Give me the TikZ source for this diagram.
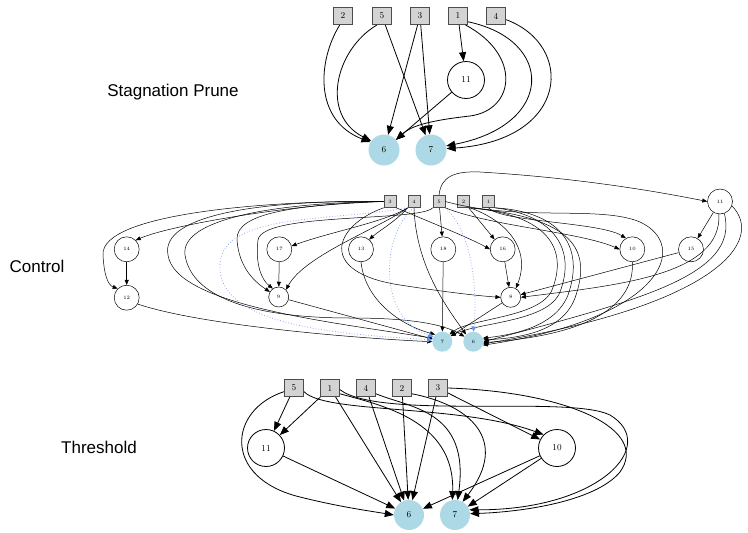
\documentclass[tikz,border=0pt]{standalone}
\usepackage{fontspec}
\newfontfamily\sidefont{Liberation Sans}
\usetikzlibrary{arrows.meta}
\definecolor{outblue}{HTML}{ADD8E6}
\definecolor{boxgray}{HTML}{D3D3D3}
\definecolor{offblue}{HTML}{8EA9EC}
\definecolor{offtip}{HTML}{6495ED}

\begin{document}
\begin{tikzpicture}[x=1pt, y=-1pt,
  inbig/.style={draw=black!70, line width=1.1pt, fill=boxgray, rectangle, minimum width=19pt, minimum height=17pt, inner sep=0pt, font=\fontsize{9}{9}\selectfont},
  hidbig/.style={draw, line width=0.8pt, circle, fill=white, inner sep=0pt, minimum size=37pt, font=\fontsize{9}{9}\selectfont},
  outbig/.style={circle, fill=outblue, inner sep=0pt, minimum size=31pt, font=\fontsize{9}{9}\selectfont},
  arr/.style={-{Triangle[length=9pt,width=7pt]}, line width=0.8pt},
  cbox/.style={draw=black!70, line width=0.6pt, fill=boxgray, rectangle, minimum size=12pt, inner sep=0pt, font=\fontsize{5}{5}\selectfont},
  chid/.style={draw, line width=0.5pt, circle, fill=white, inner sep=0pt, minimum size=25pt, font=\fontsize{5}{5}\selectfont},
  cout/.style={circle, fill=outblue, inner sep=0pt, minimum size=20pt, font=\fontsize{5}{5}\selectfont},
  carr/.style={-{Triangle[length=5pt,width=4pt]}, line width=0.5pt},
  off/.style={draw=offblue, dotted, line width=0.8pt, -{Triangle[length=5pt,width=5pt,color=offtip]}},
  sidelabel/.style={font=\sidefont\fontsize{17}{20}\selectfont}]
\useasboundingbox (0,0) rectangle (748,533);

\node[inbig] (s2) at (343,16) {2};
\node[inbig] (s5) at (382,16) {5};
\node[inbig] (s3) at (420,16) {3};
\node[inbig] (s1) at (458,16) {1};
\node[inbig] (s4) at (496,16) {4};
\node[hidbig] (s11) at (466,80) {11};
\node[outbig] (s6) at (384,150) {6};
\node[outbig] (s7) at (431,150) {7};
\node[sidelabel] (sname) at (173,92) {Stagnation Prune};
\draw[arr] (s2.-110) .. controls (318,60) and (313,120) .. (s6.150);
\draw[arr] (s5.-120) .. controls (335,50) and (320,115) .. (s6.145);
\draw[arr] (s5) -- (s7);
\draw[arr] (s3) -- (s6);
\draw[arr] (s3) -- (s7);
\draw[arr] (s1) -- (s11);
\draw[arr] (s11) -- (s6);
\draw[arr] (s1.-50) .. controls (522,55) and (515,110) .. (470,116) .. controls (425,121) and (410,127) .. (s6.40);
\draw[arr] (s1.-30) .. controls (555,40) and (555,125) .. (s7.15);
\draw[arr] (s4.-20) .. controls (575,45) and (570,140) .. (s7.5);

\node[cbox] (c3) at (390,201.5) {3};
\node[cbox] (c4) at (414,201.5) {4};
\node[cbox] (c5) at (439,201.5) {5};
\node[cbox] (c2) at (463.5,201.5) {2};
\node[cbox] (c1) at (488.5,201.5) {1};
\node[chid] (c11) at (720,201.5) {11};
\node[chid] (c14) at (126.7,249.3) {14};
\node[chid] (c17) at (279.3,249.3) {17};
\node[chid] (c13) at (361,249.3) {13};
\node[chid] (c18) at (443.3,249.3) {18};
\node[chid] (c16) at (502.7,249.3) {16};
\node[chid] (c10) at (632.3,249.3) {10};
\node[chid] (c15) at (691,249.3) {15};
\node[chid] (c12) at (126.7,297.7) {12};
\node[chid, minimum size=20pt] (c9) at (278.7,297) {9};
\node[chid, minimum size=20pt] (c8) at (510.7,297.3) {8};
\node[cout] (c7) at (442.3,341.7) {7};
\node[cout] (c6) at (473.3,341.7) {6};
\node[sidelabel] (cname) at (37,266) {Control};
\draw[carr] (c3.west) .. controls (300,203) and (170,225) .. (c14.45);
\draw[carr] (c3.west) .. controls (280,200) and (100,212) .. (103,255) .. controls (104,275) and (108,285) .. (c12.135);
\draw[carr] (c14) -- (c12);
\draw[carr] (c12.-30) .. controls (200,325) and (350,338) .. (c7.west);
\draw[carr] (c3.west) .. controls (260,200) and (160,215) .. (168,255) .. controls (175,305) and (330,322) .. (c7.160);
\draw[carr] (c3.west) .. controls (270,203) and (180,220) .. (185,255) .. controls (192,300) and (260,318) .. (350,318) .. controls (400,318) and (440,322) .. (c6.150);
\draw[carr] (c3.west) .. controls (300,205) and (235,212) .. (237,240) .. controls (239,268) and (255,282) .. (c9.150);
\draw[carr] (c5.south west) .. controls (420,222) and (262,212) .. (258,240) .. controls (255,265) and (262,280) .. (c9.125);
\draw[carr] (c17) -- (c9);
\draw[carr] (c4.south west) .. controls (385,222) and (330,232) .. (c17.15);
\draw[carr] (c4.south west) .. controls (380,228) and (305,255) .. (c9.45);
\draw[carr] (c4.south west) .. controls (395,222) and (380,230) .. (c13.50);
\draw[carr] (c9) -- (c7);
\draw[carr] (c13.south) .. controls (365,300) and (400,325) .. (c7.135);
\draw[carr] (c18) -- (c7);
\draw[carr] (c4.south) .. controls (416,265) and (445,305) .. (c6.135);
\draw[carr] (c3.south west) .. controls (335,225) and (315,272) .. (400,285) .. controls (445,292) and (480,296) .. (c8.west);
\draw[carr] (c5) -- (c18);
\draw[carr] (c5.north) .. controls (441,176) and (455,171) .. (480,172) .. controls (580,178) and (660,192) .. (c11.west);
\draw[carr] (c3.south east) .. controls (420,218) and (470,238) .. (c16.west);
\draw[carr] (c2) -- (c16);
\draw[carr] (c16) -- (c8);
\draw[carr] (c2.south east) .. controls (505,220) and (532,248) .. (c8.60);
\draw[carr] (c5.south east) .. controls (490,226) and (580,232) .. (c10.west);
\draw[carr] (c1.south) .. controls (500,222) and (600,222) .. (c10.120);
\draw[carr] (c11) -- (c15);
\draw[carr] (c15) -- (c8);
\draw[carr] (c11.-95) .. controls (722,275) and (620,285) .. (c8.east);
\draw[carr] (c11.-70) .. controls (740,275) and (640,300) .. (c6.east);
\draw[carr] (c11.-20) .. controls (765,240) and (720,305) .. (c6.-12);
\draw[carr] (c10.south) .. controls (635,305) and (590,335) .. (c6.-5);
\draw[carr] (c8) -- (c7);
\draw[carr] (c2.south east) .. controls (550,215) and (568,250) .. (552,290) .. controls (540,318) and (470,318) .. (c7.45);
\draw[carr] (c1.south east) .. controls (555,215) and (576,250) .. (560,292) .. controls (548,322) and (480,322) .. (c7.35);
\draw[carr] (c1.south east) .. controls (565,212) and (584,250) .. (568,295) .. controls (555,328) and (510,335) .. (c6.20);
\draw[carr] (c2.south east) .. controls (575,218) and (592,250) .. (575,298) .. controls (562,332) and (520,338) .. (c6.10);
\draw[carr] (c5.east) .. controls (520,222) and (600,205) .. (640,222) .. controls (690,245) and (665,318) .. (c6.-20);
\draw[off] (c4.south west) .. controls (330,222) and (215,212) .. (220,270) .. controls (224,330) and (360,335) .. (c7.170);
\draw[off] (c4.south) .. controls (380,235) and (378,320) .. (c7.150);
\draw[off] (c5.south east) .. controls (472,232) and (478,290) .. (c6.north);

\node[inbig] (t5) at (294,388) {5};
\node[inbig] (t1) at (330,388) {1};
\node[inbig] (t4) at (366,388) {4};
\node[inbig] (t2) at (402,388) {2};
\node[inbig] (t3) at (438,388) {3};
\node[hidbig] (t11) at (266,448) {11};
\node[hidbig] (t10) at (557,448) {10};
\node[outbig, minimum size=30pt] (t6) at (409,515) {6};
\node[outbig, minimum size=30pt] (t7) at (455,515) {7};
\node[sidelabel] (tname) at (99,447) {Threshold};
\draw[arr] (t5) -- (t11);
\draw[arr] (t1) -- (t11);
\draw[arr] (t5.-160) .. controls (228,410) and (222,478) .. (300,497) .. controls (340,507) and (370,511) .. (t6.west);
\draw[arr] (t11) -- (t6);
\draw[arr] (t1) -- (t6);
\draw[arr] (t4) -- (t6);
\draw[arr] (t2) -- (t6);
\draw[arr] (t3) -- (t6);
\draw[arr] (t10) -- (t6);
\draw[arr] (t10) -- (t7);
\draw[arr] (t5.-20) .. controls (325,414) and (460,404) .. (t10.135);
\draw[arr] (t3) -- (t10);
\draw[arr] (t1.-30) .. controls (380,405) and (455,420) .. (t7.100);
\draw[arr] (t4.-30) .. controls (410,408) and (470,410) .. (t7.80);
\draw[arr] (t2.-30) .. controls (470,405) and (510,440) .. (t7.60);
\draw[arr] (t1.-10) .. controls (380,420) and (570,395) .. (610,415) .. controls (660,445) and (600,510) .. (t7.20);
\draw[arr] (t3.east) .. controls (570,392) and (650,430) .. (620,472) .. controls (595,502) and (520,512) .. (t7.5);
\end{tikzpicture}
\end{document}
